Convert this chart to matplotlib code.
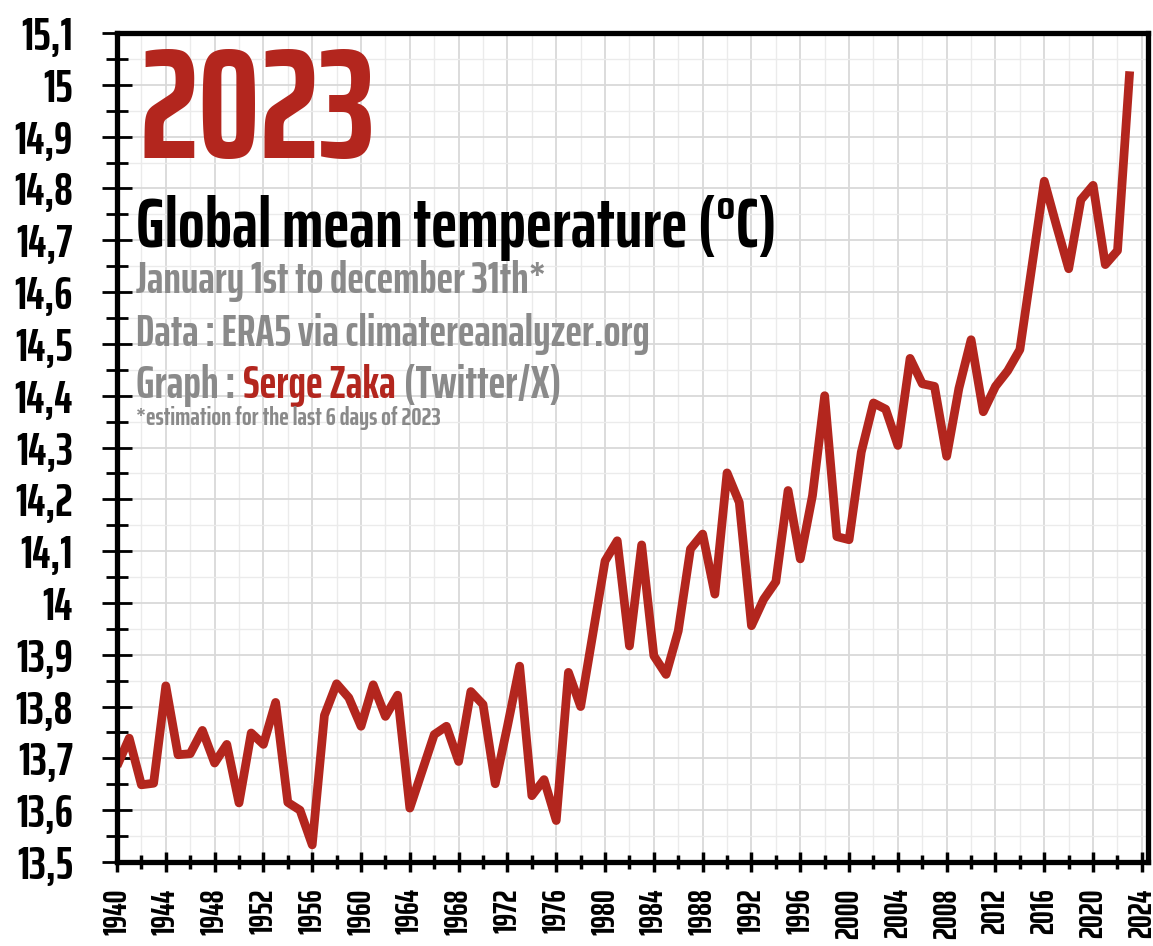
import matplotlib
matplotlib.use("Agg")
import matplotlib.pyplot as plt
from matplotlib.ticker import MultipleLocator

# ---------------- data ----------------
years = list(range(1940, 2024))
temps = [13.685, 13.739, 13.649, 13.652, 13.840, 13.707, 13.709, 13.754, 13.691, 13.727,
         13.614, 13.749, 13.727, 13.808, 13.615, 13.600, 13.533, 13.783, 13.844, 13.817,
         13.762, 13.842, 13.781, 13.822, 13.604, 13.675, 13.746, 13.762, 13.694, 13.829,
         13.804, 13.651, 13.762, 13.878, 13.628, 13.659, 13.580, 13.866, 13.800, 13.940,
         14.081, 14.120, 13.917, 14.112, 13.898, 13.862, 13.946, 14.104, 14.133, 14.017,
         14.251, 14.194, 13.956, 14.007, 14.041, 14.217, 14.085, 14.207, 14.400, 14.128,
         14.122, 14.291, 14.386, 14.374, 14.304, 14.472, 14.423, 14.418, 14.283, 14.414,
         14.508, 14.369, 14.418, 14.448, 14.489, 14.652, 14.814, 14.728, 14.645, 14.778,
         14.806, 14.653, 14.680, 15.026]
x_tick_years = list(range(1940, 2025, 4))
y_tick_values = [13.5 + 0.1 * i for i in range(17)]

title_big = "2023"
title_main = "Global mean temperature (°C)"
sub_lines = ["January 1st to december 31th*", "Data : ERA5 via climatereanalyzer.org"]
graph_parts = ["Graph :", "Serge Zaka", "(Twitter/X)"]
footnote = "*estimation for the last 6 days of 2023"

# ---------------- style ----------------
FONT = "Saira ExtraCondensed"
RED = "#b3261e"
GRAY = "#8a8a8a"
plt.rcParams["font.family"] = [FONT, "DejaVu Sans"]
plt.rcParams["font.weight"] = "bold"

W, H = 1153, 946
fig = plt.figure(figsize=(W / 100, H / 100), dpi=100)
ax = fig.add_axes([117 / W, 1 - 862 / H, (1148 - 117) / W, (862 - 33) / H])

ax.plot(years, temps, color=RED, lw=6.3, solid_joinstyle="round", solid_capstyle="butt", zorder=3)

ax.set_xlim(1940, 2024.5)
ax.set_ylim(13.5, 15.1)

ax.xaxis.set_minor_locator(MultipleLocator(2))
ax.yaxis.set_minor_locator(MultipleLocator(0.05))
ax.set_xticks(x_tick_years)
ax.set_xticklabels([str(y) for y in x_tick_years], rotation=90)
ax.set_yticks(y_tick_values)


def yfmt(v):
    s = "%.1f" % v
    if s.endswith(".0"):
        s = s[:-2]
    return s.replace(".", ",")


ax.set_yticklabels([yfmt(v) for v in y_tick_values])

ax.grid(which="major", color="#d9d9d9", lw=1.3, zorder=0)
ax.grid(which="minor", color="#ebebeb", lw=1.0, zorder=0)
ax.set_axisbelow(True)

for s in ax.spines.values():
    s.set_linewidth(3.8)
    s.set_color("black")
    s.set_zorder(5)

ax.tick_params(axis="y", which="major", direction="inout", length=21.5, width=2.0, pad=21,
               labelsize=33, labelcolor="black", color="black")
ax.tick_params(axis="y", which="minor", direction="inout", length=15.5, width=2.0)
ax.tick_params(axis="x", which="major", direction="inout", length=14, width=2.5, pad=12,
               labelsize=23, labelcolor="black", color="black")
ax.tick_params(axis="x", which="minor", direction="inout", length=10, width=2.5)
for lab in ax.get_xticklabels() + ax.get_yticklabels():
    lab.set_fontweight("bold")

# ---------------- texts ----------------
X0 = 136 / W


def fy(py):
    return 1 - py / H


fig.text(X0 + 3 / W, fy(158), title_big, color=RED, fontsize=112, fontweight="bold", va="baseline", ha="left")
fig.text(X0, fy(247), title_main, color="black", fontsize=50.5, fontweight="bold", va="baseline", ha="left")
fig.text(X0, fy(293), sub_lines[0], color=GRAY, fontsize=32, fontweight="bold", va="baseline", ha="left")
fig.text(X0, fy(346), sub_lines[1], color=GRAY, fontsize=32, fontweight="bold", va="baseline", ha="left")

renderer = fig.canvas.get_renderer()
xcur = X0
colors = [GRAY, RED, GRAY]
for part, col in zip(graph_parts, colors):
    t = fig.text(xcur, fy(398), part, color=col, fontsize=32.5, fontweight="bold", va="baseline", ha="left")
    bb = t.get_window_extent(renderer=renderer)
    xcur = bb.x1 / W + 8 / W

fig.text(X0, fy(425), footnote, color=GRAY, fontsize=18.5, fontweight="bold", va="baseline", ha="left")

fig.savefig("out.png", dpi=100, facecolor="white")
